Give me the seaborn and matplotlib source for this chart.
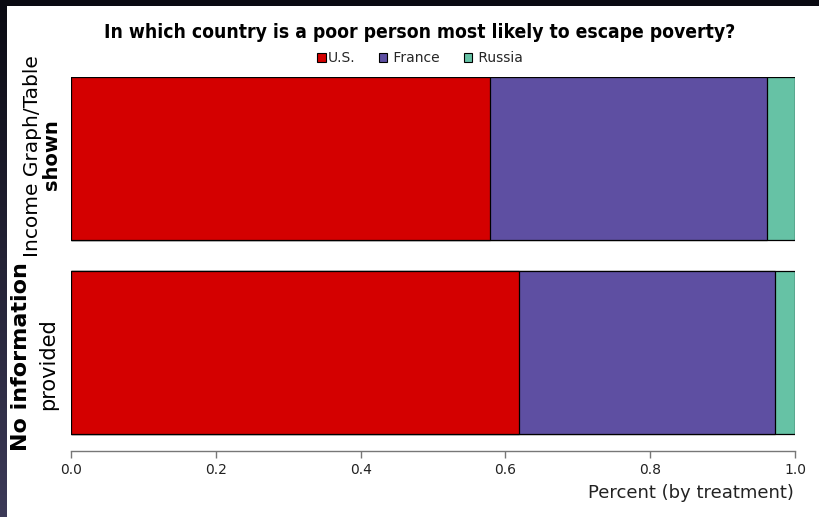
import numpy as np
import pandas as pd
import matplotlib
matplotlib.use("Agg")
import matplotlib.pyplot as plt
import seaborn as sns
from matplotlib.patches import Patch, Rectangle
from matplotlib.colors import LinearSegmentedColormap

treatments = ["Income Graph/Table shown", "No information provided"]
countries = ["U.S.", "France", "Russia"]
us = [0.579, 0.619]
france = [0.382, 0.353]
russia = [0.039, 0.028]
colors = ["#d40000", "#5e4fa2", "#66c2a5"]
xticks = [0.0, 0.2, 0.4, 0.6, 0.8, 1.0]

sns.set_theme(style="white")
plt.rcParams["font.family"] = ["DejaVu Sans"]

df = pd.DataFrame({"treatment": treatments, "U.S.": us, "France": france, "Russia": russia})
df["cum_us"] = df["U.S."]
df["cum_fr"] = df["U.S."] + df["France"]
df["cum_ru"] = df["cum_fr"] + df["Russia"]

fig = plt.figure(figsize=(8.2, 5.17), dpi=100)
fig.patch.set_facecolor("#0b0b12")
bg = fig.add_axes([0, 0, 1, 1], zorder=-10)
grad = np.linspace(0, 1, 256).reshape(-1, 1)
cm = LinearSegmentedColormap.from_list("g", ["#0a0a12", "#3c3a58"])
bg.imshow(grad, aspect="auto", cmap=cm, extent=[0, 1, 0, 1], origin="upper")
bg.add_patch(Rectangle((7 / 820, 0), 1, 1 - 6 / 517, facecolor="white", edgecolor="none"))
bg.set_xlim(0, 1)
bg.set_ylim(0, 1)
bg.axis("off")

ax = fig.add_axes([71 / 820, 1 - 451 / 517, 724 / 820, (451 - 77) / 517])
ax.set_facecolor("none")
for col, c in zip(["cum_ru", "cum_fr", "cum_us"], colors[::-1]):
    sns.barplot(data=df, x=col, y="treatment", orient="h", color=c, width=0.84,
                edgecolor="black", linewidth=0.9, saturation=1, ax=ax)

ax.set_xlim(0, 1)
ax.set_ylim(1.508, -0.42)
ax.set_xticks(xticks)
ax.set_xticklabels([f"{t:.1f}" for t in xticks], fontsize=10, color="#222222")
ax.set_yticks([])
ax.set_ylabel("")
ax.set_xlabel("")
for s in ["left", "right", "top"]:
    ax.spines[s].set_visible(False)
ax.spines["bottom"].set_color("#777777")
ax.spines["bottom"].set_linewidth(1)
ax.tick_params(axis="x", direction="out", length=5, width=1, color="#777777", pad=4, bottom=True)

fig.text(794 / 820, 1 - 493 / 517, "Percent (by treatment)", ha="right", va="center",
         fontsize=13, color="#222222")

fig.text(420 / 820, 1 - 33 / 517, "In which country is a poor person most likely to escape poverty?",
         ha="center", va="center", fontsize=13.9, fontweight="bold", fontstretch="condensed",
         color="black")

handles = [Patch(facecolor=c, edgecolor="black", linewidth=0.8) for c in colors]
labels = [countries[0]] + [" " + c for c in countries[1:]]
fig.legend(handles, labels, loc="center", bbox_to_anchor=(420 / 820, 1 - 58 / 517), ncol=3,
           frameon=False, fontsize=10, handlelength=0.6, handleheight=0.6, handletextpad=0.15,
           columnspacing=1.7, borderpad=0)

fig.text(33 / 820, 1 - 156 / 517, "Income Graph/Table", rotation=90, ha="center", va="center",
         fontsize=14.5, color="black")
fig.text(52 / 820, 1 - 155 / 517, "shown", rotation=90, ha="center", va="center",
         fontsize=14, fontweight="bold", color="black")
fig.text(21 / 820, 1 - 357 / 517, "No information", rotation=90, ha="center", va="center",
         fontsize=16, fontweight="bold", color="black")
fig.text(48 / 820, 1 - 364 / 517, "provided", rotation=90, ha="center", va="center",
         fontsize=15, color="black")

fig.savefig("out.png", dpi=100, facecolor=fig.get_facecolor())
